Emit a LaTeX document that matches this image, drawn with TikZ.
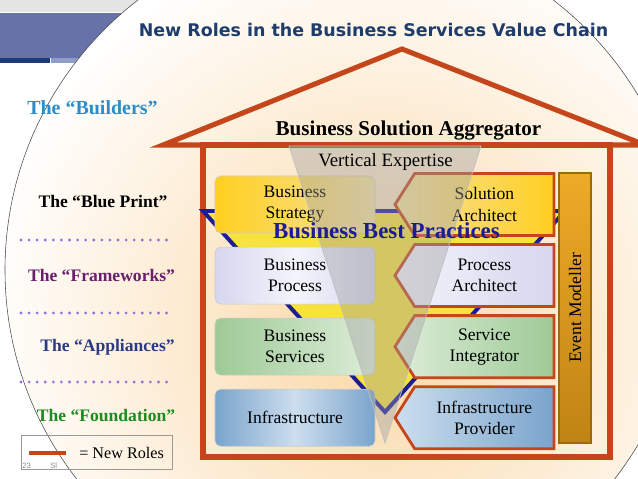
\documentclass[tikz,border=0pt]{standalone}
\usepackage{fontspec}
\setmainfont{Liberation Serif}
\newfontfamily\titlefont{DejaVu Sans}
\newfontfamily\slidefont{Liberation Sans}
\usepackage{tikz}
\usetikzlibrary{shapes.symbols, calc, positioning}
\definecolor{roofred}{HTML}{C6461C}
\definecolor{titleblue}{HTML}{1E3C6C}
\definecolor{bandblue}{HTML}{6672A8}
\definecolor{bandnavy}{HTML}{1C3A78}
\definecolor{bandlight}{HTML}{8E9CC8}
\definecolor{peach}{HTML}{FAD7A4}
\definecolor{practiceyellow}{HTML}{F8E23C}
\definecolor{practiceblue}{HTML}{1C1C94}
\definecolor{dotpurple}{HTML}{9A6ADE}
\definecolor{builderblue}{HTML}{2E8CCC}
\definecolor{frameplum}{HTML}{6A1E6E}
\definecolor{appliancenavy}{HTML}{2B3A85}
\definecolor{foundgreen}{HTML}{1F8A1F}
\definecolor{gold}{HTML}{FFD020}
\definecolor{palegold}{HTML}{F6E2A0}
\definecolor{lavender}{HTML}{D6D6EE}
\definecolor{palelavender}{HTML}{F4F4FC}
\definecolor{sage}{HTML}{9ECA96}
\definecolor{palesage}{HTML}{DDEDD8}
\definecolor{steel}{HTML}{7AA4CC}
\definecolor{palesteel}{HTML}{CCDEEE}
\definecolor{amber}{HTML}{EEAA28}
\definecolor{darkamber}{HTML}{C08414}
\newcommand{\layerfont}{\fontsize{12.5}{15}\selectfont}
\tikzstyle{layer} = [rectangle, rounded corners=4pt, draw=black!20, minimum width=4cm, minimum height=1.425cm, align=center, font=\layerfont]
\tikzstyle{role} = [signal, signal to=west, signal pointer angle=115, draw=roofred, line width=2pt, minimum width=3.975cm, minimum height=1.55cm, align=center, font=\layerfont]
\tikzstyle{tier} = [anchor=base, font=\bfseries\fontsize{12.5}{15}\selectfont]
\tikzstyle{dots} = [dotpurple, line width=2.2pt, line cap=round, dash pattern=on 0pt off 5.75pt]
\tikzstyle{roof} = [draw=roofred, line width=3.6pt]

\begin{document}
\begin{tikzpicture}[x=0.025cm, y=-0.025cm, node distance=0.3375cm]
		\clip (0,0) rectangle (638,479);
		\fill[white] (0,0) rectangle (638,479);
		% slide header band
		\fill[black!10] (0,0) rectangle (160,12);
		\fill[bandblue] (0,13) rectangle (160,58);
		\fill[bandnavy] (0,58) rectangle (50,63);
		\fill[bandlight] (51,58) rectangle (160,63);
		\begin{scope}
			\clip (345.6,270) circle (340.6);
			\fill[white] (345.6,270) circle (340.6);
			\shade[inner color=peach, outer color=white] (380,330) circle (400);
		\end{scope}
		\draw[black!70, line width=0.4pt] (345.6,270) circle (340.6);
		
		\node (Title) [anchor=base, text=titleblue, font=\titlefont\bfseries\fontsize{12.4}{15}\selectfont] at (373.5,37) {New Roles in the Business Services Value Chain};
		
		% house
		\draw[roof, line join=miter] (163,145) -- (402,49) -- (645,145) -- cycle;
		\draw[roof] (203,145) rectangle (610,457);
		\filldraw[fill=practiceyellow, draw=practiceblue, line width=2.8pt] (203,211) -- (565,211) -- (385,412) -- cycle;
		
		\node (Strategy) [layer, left color=gold, right color=palegold] at (295,204.5) {Business\\Strategy};
		\node (Process) [layer, left color=lavender, right color=lavender, middle color=palelavender, below = of Strategy] {Business\\Process};
		\node (Services) [layer, left color=sage, right color=palesage, below = of Process] {Business\\Services};
		\node (Infra) [layer, left color=steel, right color=steel, middle color=palesteel, below = of Services] {Infrastructure};
		
		\node (SolArchitect) [role, left color=palegold, right color=gold, right = 0.45cm of Strategy] {Solution\\Architect};
		\node (ProcArchitect) [role, left color=palelavender, right color=lavender, right = 0.45cm of Process] {Process\\Architect};
		\node (Integrator) [role, left color=palesage, right color=sage, right = 0.45cm of Services] {Service\\Integrator};
		\node (Provider) [role, left color=palesteel, right color=steel, right = 0.45cm of Infra] {Infrastructure\\Provider};
		
		\node (Modeller) [rectangle, draw=darkamber!80!black, line width=0.8pt, rotate=90, top color=amber, bottom color=darkamber, minimum width=6.75cm, minimum height=0.8cm, font=\layerfont] at (575,308) {Event Modeller};
		
		% vertical expertise wedge
		\filldraw[fill=black!38, fill opacity=0.4, draw=black!25, line width=0.5pt] (289,146) -- (481,146) -- (385,443) -- cycle;
		\node (Expertise) [anchor=base, font=\fontsize{13.4}{16}\selectfont] at (385.5,166) {Vertical Expertise};
		\node (BestPractices) [anchor=base, text=practiceblue, font=\bfseries\fontsize{16.3}{19}\selectfont] at (386.5,238) {Business Best Practices};
		\node (Aggregator) [anchor=base, font=\bfseries\fontsize{15}{18}\selectfont] at (408.5,135) {Business Solution Aggregator};
		
		% tiers on the left
		\node (Builders) [tier, text=builderblue, font=\bfseries\fontsize{14.2}{17}\selectfont] at (92.5,115) {The “Builders”};
		\node (BluePrint) [tier] at (103,207) {The “Blue Print”};
		\node (Frameworks) [tier, text=frameplum] at (101.5,281.7) {The “Frameworks”};
		\node (Appliances) [tier, text=appliancenavy] at (107.5,351.7) {The “Appliances”};
		\node (Foundation) [tier, text=foundgreen] at (106,421.7) {The “Foundation”};
		\draw[dots] (21,240) -- (167,240);
		\draw[dots] (21,313) -- (167,313);
		\draw[dots] (21,382) -- (167,382);
		
		% legend
		\node (Legend) [draw=black!40, line width=0.5pt, minimum width=3.775cm, minimum height=0.85cm] at (96.5,452.5) {};
		\coordinate (LegendA) at (29,453);
		\coordinate (LegendB) at (66,453);
		\draw[roofred, line width=3pt] (LegendA) -- (LegendB);
		\node (LegendText) [anchor=base west, font=\fontsize{11.5}{14}\selectfont, inner sep=0pt] at (79,458) {= New Roles};
		\node (SlideNo) [anchor=base west, text=black!45, font=\slidefont\fontsize{5.5}{6}\selectfont, inner sep=0pt] at (22,468) {23};
		\node (SlideTag) [anchor=base west, text=black!45, font=\slidefont\fontsize{5.5}{6}\selectfont, inner sep=0pt] at (50,468) {Sl};
\end{tikzpicture}
\end{document}
